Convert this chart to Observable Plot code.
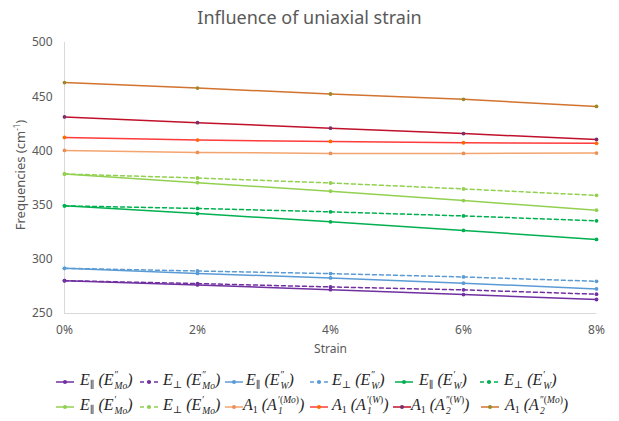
<!DOCTYPE html>
<html>
<head>
<meta charset="utf-8">
<script src="https://cdn.jsdelivr.net/npm/d3@7"></script>
<script src="https://cdn.jsdelivr.net/npm/@observablehq/plot@0.6"></script>
<style>
  html, body { margin: 0; padding: 0; background: #fff; }
  #wrap { position: relative; width: 619px; height: 421px; overflow: hidden; font-family: "Noto Sans", "Open Sans", sans-serif; color: #595959; }
  #title { height: 32px; line-height: 34px; text-align: center; font-size: 18px; color: #595959; }
  #ylab { position: absolute; left: 20px; top: 175px; transform: translate(-50%, -50%) rotate(-90deg); font-size: 13px; white-space: nowrap; color: #595959; }
  #legend { position: relative; height: 60px; }
  .sym { position: absolute; width: 18px; height: 6px; }
  .lt { position: absolute; font-family: "Liberation Serif", "DejaVu Serif", serif; font-style: italic; font-size: 16px; color: #262626; white-space: nowrap; line-height: 18px; }
  .lt sub { font-size: 10px; line-height: 10px; vertical-align: -3px; font-style: normal; }
  .ss { display: inline-flex; flex-direction: column; vertical-align: middle; font-size: 9.5px; line-height: 11px; margin-left: 1px; }
  .up { font-style: normal; }
  svg.plot text { fill: #595959; }
</style>
</head>
<body>
<div id="wrap">
  <div id="title">Influence of uniaxial strain</div>
  <div id="ylab">Frequencies (cm<sup style="font-size:8px">-1</sup>)</div>
  <div id="chart"></div>
  <div id="legend"></div>
</div>
<script>
// ---- data ----
const strains = ["0%", "2%", "4%", "6%", "8%"];
const yTicks = [250, 300, 350, 400, 450, 500];
const eParMo2  = [280.3, 276.4, 272.0, 267.5, 262.9]; // E|| (E''Mo)
const ePerpMo2 = [280.3, 277.6, 274.5, 271.8, 267.8]; // E_|_ (E''Mo)
const eParW2   = [291.7, 287.0, 282.8, 278.0, 272.7]; // E|| (E''W)
const ePerpW2  = [291.7, 289.2, 286.8, 283.7, 279.7]; // E_|_ (E''W)
const eParW1   = [349.3, 342.2, 334.6, 326.6, 318.3]; // E|| (E'W)
const ePerpW1  = [349.3, 346.9, 343.8, 340.0, 335.5]; // E_|_ (E'W)
const eParMo1  = [378.7, 370.7, 362.8, 354.2, 345.3]; // E|| (E'Mo)
const ePerpMo1 = [378.7, 375.0, 370.4, 364.9, 359.0]; // E_|_ (E'Mo)
const a1Mo     = [400.4, 398.6, 397.7, 397.7, 398.0]; // A1 (A1'(Mo))
const a1W      = [412.4, 410.0, 408.7, 407.5, 407.0]; // A1 (A1'(W))
const a2W      = [431.3, 426.0, 421.0, 416.0, 410.5]; // A1 (A2''(W))
const a2Mo     = [463.0, 458.0, 452.5, 447.6, 441.0]; // A1 (A2''(Mo))

// ---- legend labels (math text) ----
const ss = (sup, sb) => `<span class="ss"><span class="up">${sup}</span><span>${sb}</span></span>`;
const labels = [
  `E<sub>∥</sub> (E${ss("″", '<i>Mo</i>')})`,
  `E<sub>⊥</sub> (E${ss("″", '<i>Mo</i>')})`,
  `E<sub>∥</sub> (E${ss("″", '<i>W</i>')})`,
  `E<sub>⊥</sub> (E${ss("″", '<i>W</i>')})`,
  `E<sub>∥</sub> (E${ss("′", '<i>W</i>')})`,
  `E<sub>⊥</sub> (E${ss("′", '<i>W</i>')})`,
  `E<sub>∥</sub> (E${ss("′", '<i>Mo</i>')})`,
  `E<sub>⊥</sub> (E${ss("′", '<i>Mo</i>')})`,
  `A<sub>1</sub> (A${ss('′(<i>Mo</i>)', '1')})`,
  `A<sub>1</sub> (A${ss('′(<i>W</i>)', '1')})`,
  `A<sub>1</sub> (A${ss('″(<i>W</i>)', '2')})`,
  `A<sub>1</sub> (A${ss('″(<i>Mo</i>)', '2')})`
];

const seriesValues = [eParMo2, ePerpMo2, eParW2, ePerpW2, eParW1, ePerpW1, eParMo1, ePerpMo1, a1Mo, a1W, a2W, a2Mo];

// ---- styles ----
const lineColors = ["#7030A0", "#7030A0", "#5B9BD5", "#5B9BD5", "#00B050", "#00B050", "#92D050", "#92D050", "#F4A46E", "#FF3B3B", "#C0102A", "#D2732F"];
const dotColors  = ["#7030A0", "#7030A0", "#5B9BD5", "#5B9BD5", "#00B050", "#00B050", "#92D050", "#92D050", "#E8925A", "#FF6A00", "#7A2E6A", "#9A8A28"];
const dashed     = [false, true, false, true, false, true, false, true, false, false, false, false];

const rows = seriesValues.map((vals, i) => strains.map((s, j) => ({ s, v: vals[j], i })));

const marks = [
  Plot.ruleY([250], { stroke: "#D9D9D9", strokeWidth: 1 }),
  Plot.ruleX(["0%"], { y1: 250, y2: 500, stroke: "#D9D9D9", strokeWidth: 1 })
];
rows.forEach((data, i) => {
  marks.push(Plot.line(data, { x: "s", y: "v", stroke: lineColors[i], strokeWidth: 1.5, strokeDasharray: dashed[i] ? "4,3" : null }));
});
rows.forEach((data, i) => {
  marks.push(Plot.dot(data, { x: "s", y: "v", r: 1.9, fill: dotColors[i], stroke: "none" }));
});
marks.push(Plot.axisX({ tickSize: 0, tickPadding: 12, fontSize: 12, label: null }));
marks.push(Plot.axisY({ ticks: yTicks, tickSize: 0, tickPadding: 12, fontSize: 12, label: null }));
marks.push(Plot.text(["Strain"], { frameAnchor: "bottom", dy: 39, fontSize: 12, text: d => d, fill: "#595959" }));

const plot = Plot.plot({
  width: 619,
  height: 329,
  marginTop: 10,
  marginBottom: 48,
  marginLeft: 64,
  marginRight: 23,
  style: { fontFamily: "'Noto Sans', 'Open Sans', sans-serif", fontSize: "12px", color: "#595959", background: "transparent", overflow: "visible" },
  x: { type: "point", domain: strains, padding: 0, label: null },
  y: { domain: [250, 500], label: null },
  marks
});
plot.classList.add("plot");
document.getElementById("chart").appendChild(plot);

// ---- legend ----
const symLeft = [56, 140, 225, 310, 395, 480, 56, 140, 225, 310, 393, 481];
const txtLeft = [80, 163, 246, 332, 419, 504, 80, 163, 243, 332, 411, 505];
const rowTop  = [14, 39];
const leg = document.getElementById("legend");
labels.forEach((lab, i) => {
  const r = i < 6 ? 0 : 1;
  const sym = document.createElementNS("http://www.w3.org/2000/svg", "svg");
  sym.setAttribute("class", "sym");
  sym.setAttribute("width", 18); sym.setAttribute("height", 6);
  sym.style.left = symLeft[i] + "px";
  sym.style.top = (rowTop[r] + 4) + "px";
  sym.innerHTML = `<line x1="0" y1="3" x2="18" y2="3" stroke="${lineColors[i]}" stroke-width="1.5" ${dashed[i] ? 'stroke-dasharray="4,3"' : ''}/><circle cx="9" cy="3" r="2" fill="${dotColors[i]}"/>`;
  leg.appendChild(sym);
  const t = document.createElement("div");
  t.className = "lt";
  t.style.left = txtLeft[i] + "px";
  t.style.top = (rowTop[r] - 5) + "px";
  t.innerHTML = lab;
  leg.appendChild(t);
});
</script>
</body>
</html>
